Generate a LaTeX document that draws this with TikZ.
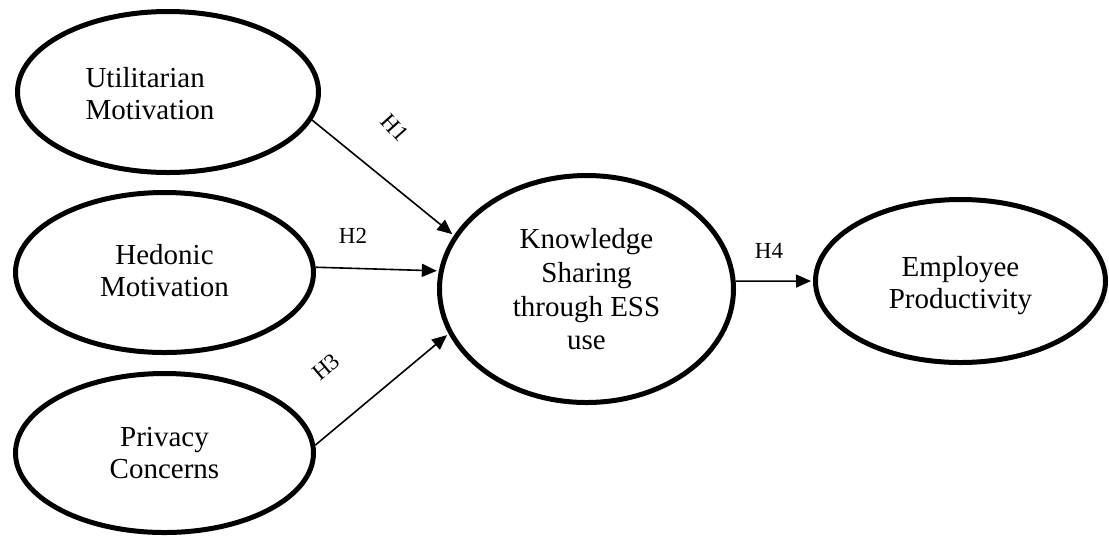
\documentclass[tikz,border=0pt]{standalone}
\usepackage{fontspec}
\setmainfont{Liberation Serif}
\usepackage{tikz}
\usetikzlibrary{shapes.geometric,arrows.meta,positioning}

% text block lowered inside its ellipse
\newcommand{\boxtext}[3][c]{\raisebox{-#2}[\height][\depth]{\begin{tabular}{@{}#1@{}}#3\end{tabular}}}

\begin{document}
\begin{tikzpicture}[
    x=0.5pt, y=-0.5pt,
    construct/.style={ellipse, draw=black, line width=2.5pt, inner sep=0pt, minimum width=149pt, minimum height=80pt, font=\fontsize{14.5}{16}\selectfont},
    arrow/.style={-{Triangle[length=7.5pt,width=6.5pt]}, line width=0.8pt, black, shorten >=1pt},
    hyp/.style={font=\fontsize{11.5}{13}\selectfont, inner sep=0pt}
]
\useasboundingbox (0,0) rectangle (1109,538);

% Constructs
\node[construct, minimum width=150.5pt, minimum height=80.5pt] (util) at (168,92) {\hspace*{-18pt}\boxtext[l]{2.75pt}{Utilitarian\\Motivation}};
\node[construct] (hed) at (164.5,272.5) {\boxtext{1pt}{Hedonic\\Motivation}};
\node[construct, minimum height=79.5pt] (priv) at (164.5,453) {\boxtext{1.5pt}{Privacy\\Concerns}};
\node[construct, minimum width=147pt, minimum height=113.5pt, font=\fontsize{14.5}{16.8}\selectfont] (know) at (586.5,289) {\boxtext{1.75pt}{Knowledge\\Sharing\\through ESS\\use}};
\node[construct, minimum width=145pt, minimum height=81.5pt] (emp) at (960.5,281) {\boxtext{2.5pt}{Employee\\Productivity}};

% Hypotheses
\node[hyp, rotate=-48] (h1) at (395,128) {H1};
\node[hyp] (h2) at (353,236) {H2};
\node[hyp, rotate=40] (h3) at (326,367) {H3};
\node[hyp] (h4) at (769,251) {H4};

% Arrows
\draw[arrow] (util.-11) -- (know.158);
\draw[arrow] (hed.2) -- (know.173);
\draw[arrow] (priv.3) -- (know.198);
\draw[arrow] (know.3) -- (emp.west);
\end{tikzpicture}
\end{document}
